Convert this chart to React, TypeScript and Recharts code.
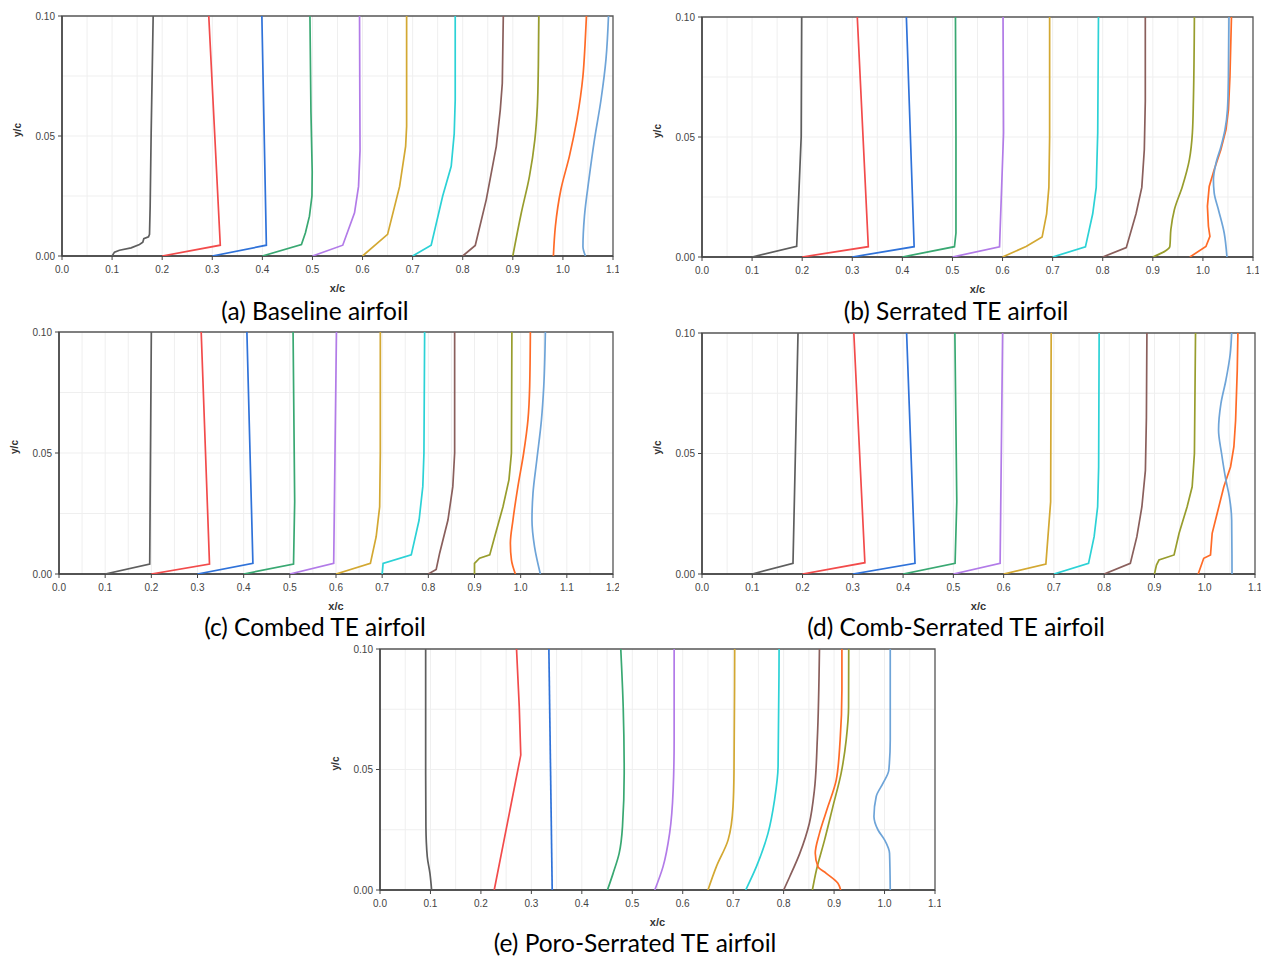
import React from 'react';
import { ScatterChart, Scatter, XAxis, YAxis, CartesianGrid, ReferenceArea } from 'recharts';

type Pt = [number, number];

const COLORS = ['#5e5e5e', '#f24b4b', '#2f72d9', '#39a872', '#b27be8', '#d3a832', '#2cd2d6', '#8a5f5c', '#989d2d', '#ff6b27', '#6ea4d8'];

const Y_TICKS = [0, 0.05, 0.1];
const Y_GRID = [0.025, 0.05, 0.075];
const X_TICKS_11 = [0, 0.1, 0.2, 0.3, 0.4, 0.5, 0.6, 0.7, 0.8, 0.9, 1.0, 1.1];
const X_TICKS_12 = [0, 0.1, 0.2, 0.3, 0.4, 0.5, 0.6, 0.7, 0.8, 0.9, 1.0, 1.1, 1.2];
const X_GRID_11 = [0.05, 0.1, 0.15, 0.2, 0.25, 0.3, 0.35, 0.4, 0.45, 0.5, 0.55, 0.6, 0.65, 0.7, 0.75, 0.8, 0.85, 0.9, 0.95, 1.0, 1.05];
const X_GRID_12 = [0.05, 0.1, 0.15, 0.2, 0.25, 0.3, 0.35, 0.4, 0.45, 0.5, 0.55, 0.6, 0.65, 0.7, 0.75, 0.8, 0.85, 0.9, 0.95, 1.0, 1.05, 1.1, 1.15];

// (a) Baseline airfoil
const baselineProfiles: Pt[][] = [
  [[0.1, 0], [0.1048, 0.0016], [0.1148, 0.0024], [0.138, 0.0034], [0.1547, 0.0048], [0.1613, 0.0057], [0.1633, 0.0072], [0.1727, 0.008], [0.1747, 0.009], [0.176, 0.0207], [0.178, 0.0513], [0.182, 0.1]],
  [[0.2, 0], [0.316, 0.0045], [0.293, 0.1]],
  [[0.3, 0], [0.408, 0.0045], [0.399, 0.1]],
  [[0.4, 0], [0.478, 0.0048], [0.486, 0.0097], [0.494, 0.0166], [0.499, 0.025], [0.4995, 0.035], [0.497, 0.06], [0.495, 0.1]],
  [[0.5, 0], [0.5605, 0.0045], [0.584, 0.018], [0.592, 0.029], [0.595, 0.044], [0.5945, 0.07], [0.594, 0.1]],
  [[0.6, 0], [0.65, 0.009], [0.674, 0.029], [0.686, 0.0457], [0.688, 0.054], [0.688, 0.1]],
  [[0.7, 0], [0.737, 0.0045], [0.76, 0.025], [0.777, 0.0374], [0.783, 0.051], [0.785, 0.065], [0.785, 0.1]],
  [[0.8, 0], [0.825, 0.0044], [0.847, 0.0235], [0.867, 0.0457], [0.875, 0.061], [0.879, 0.072], [0.881, 0.1]],
  [[0.9, 0], [0.917, 0.018], [0.933, 0.033], [0.944, 0.0485], [0.949, 0.0624], [0.951, 0.079], [0.952, 0.1]],
  [[0.981, 0], [0.985, 0.0124], [0.996, 0.0277], [1.013, 0.0416], [1.028, 0.0569], [1.04, 0.075], [1.044, 0.0874], [1.047, 0.1]],
  [[1.045, 0], [1.04, 0.004], [1.043, 0.0166], [1.052, 0.032], [1.063, 0.0485], [1.076, 0.065], [1.086, 0.082], [1.091, 0.1]],
];

// (b) Serrated TE airfoil
const serratedProfiles: Pt[][] = [
  [[0.1, 0], [0.189, 0.0044], [0.198, 0.05], [0.199, 0.1]],
  [[0.2, 0], [0.332, 0.0043], [0.31, 0.1]],
  [[0.3, 0], [0.4235, 0.0043], [0.408, 0.1]],
  [[0.4, 0], [0.504, 0.0043], [0.507, 0.01], [0.507, 0.05], [0.506, 0.1]],
  [[0.5, 0], [0.594, 0.0042], [0.602, 0.0517], [0.601, 0.1]],
  [[0.6, 0], [0.647, 0.0044], [0.679, 0.0083], [0.688, 0.018], [0.6925, 0.029], [0.694, 0.05], [0.694, 0.1]],
  [[0.7, 0], [0.7655, 0.0042], [0.78, 0.018], [0.787, 0.029], [0.79, 0.0517], [0.7915, 0.1]],
  [[0.8, 0], [0.847, 0.0039], [0.8665, 0.018], [0.878, 0.029], [0.883, 0.0447], [0.885, 0.065], [0.885, 0.1]],
  [[0.9, 0], [0.934, 0.0044], [0.936, 0.0114], [0.943, 0.0197], [0.959, 0.0294], [0.973, 0.0406], [0.979, 0.0517], [0.981, 0.065], [0.983, 0.1]],
  [[0.974, 0], [1.006, 0.0044], [1.014, 0.0086], [1.011, 0.0128], [1.009, 0.0211], [1.0126, 0.0294], [1.0225, 0.0364], [1.0358, 0.0447], [1.046, 0.053], [1.051, 0.0614], [1.054, 0.0753], [1.057, 0.1]],
  [[1.048, 0], [1.0425, 0.01], [1.031, 0.0197], [1.0225, 0.0267], [1.021, 0.0322], [1.026, 0.039], [1.036, 0.046], [1.044, 0.053], [1.049, 0.0614], [1.051, 0.075], [1.052, 0.1]],
];

// (c) Combed TE airfoil
const combedProfiles: Pt[][] = [
  [[0.1, 0], [0.1965, 0.0041], [0.2, 0.1]],
  [[0.2, 0], [0.326, 0.0041], [0.308, 0.1]],
  [[0.3, 0], [0.42, 0.0044], [0.407, 0.1]],
  [[0.4, 0], [0.508, 0.0041], [0.5105, 0.03], [0.507, 0.1]],
  [[0.5, 0], [0.595, 0.0044], [0.601, 0.1]],
  [[0.6, 0], [0.6745, 0.0044], [0.687, 0.0154], [0.6946, 0.0278], [0.696, 0.05], [0.696, 0.1]],
  [[0.7, 0], [0.702, 0.0044], [0.763, 0.0079], [0.78, 0.0223], [0.788, 0.0361], [0.7905, 0.05], [0.792, 0.1]],
  [[0.8, 0], [0.817, 0.0019], [0.8245, 0.0086], [0.8425, 0.0223], [0.853, 0.0361], [0.857, 0.05], [0.857, 0.1]],
  [[0.9, 0], [0.9, 0.0044], [0.911, 0.0065], [0.933, 0.0079], [0.9437, 0.0154], [0.9617, 0.0278], [0.9747, 0.039], [0.98, 0.05], [0.981, 0.1]],
  [[0.9885, 0], [0.98, 0.0058], [0.9777, 0.0127], [0.9833, 0.0223], [0.994, 0.0361], [1.0065, 0.05], [1.0158, 0.0637], [1.0195, 0.0775], [1.021, 0.1]],
  [[1.0426, 0], [1.03, 0.0113], [1.0245, 0.0223], [1.0267, 0.0334], [1.035, 0.0472], [1.045, 0.0637], [1.05, 0.0775], [1.0535, 0.1]],
];

// (d) Comb-Serrated TE airfoil
const combSerratedProfiles: Pt[][] = [
  [[0.1, 0], [0.181, 0.0044], [0.191, 0.1]],
  [[0.2, 0], [0.324, 0.0047], [0.302, 0.1]],
  [[0.3, 0], [0.4237, 0.0044], [0.407, 0.1]],
  [[0.4, 0], [0.5034, 0.0044], [0.5068, 0.03], [0.503, 0.1]],
  [[0.5, 0], [0.593, 0.0044], [0.598, 0.1]],
  [[0.6, 0], [0.684, 0.0041], [0.6935, 0.03], [0.6946, 0.1]],
  [[0.7, 0], [0.7689, 0.0044], [0.78, 0.0155], [0.787, 0.0279], [0.789, 0.0445], [0.79, 0.1]],
  [[0.8, 0], [0.852, 0.0044], [0.865, 0.0155], [0.875, 0.0279], [0.882, 0.043], [0.884, 0.065], [0.885, 0.1]],
  [[0.9, 0], [0.904, 0.0037], [0.909, 0.0058], [0.939, 0.0079], [0.949, 0.0169], [0.965, 0.0279], [0.975, 0.0362], [0.9795, 0.05], [0.9817, 0.1]],
  [[0.987, 0], [0.998, 0.0065], [1.0115, 0.0079], [1.0148, 0.0169], [1.0248, 0.0252], [1.038, 0.0362], [1.0514, 0.0445], [1.058, 0.0528], [1.0614, 0.0637], [1.0647, 0.0845], [1.066, 0.1]],
  [[1.0543, 0], [1.0536, 0.0224], [1.049, 0.032], [1.0421, 0.039], [1.0335, 0.05], [1.0275, 0.0597], [1.0322, 0.0707], [1.0421, 0.0804], [1.0508, 0.0915], [1.0536, 0.1]],
];

// (e) Poro-Serrated TE airfoil
const poroSerratedProfiles: Pt[][] = [
  [[0.1023, 0], [0.099, 0.0069], [0.0937, 0.0138], [0.091, 0.0263], [0.0905, 0.0485], [0.0905, 0.1]],
  [[0.2264, 0], [0.279, 0.056], [0.276, 0.076], [0.2706, 0.1]],
  [[0.3413, 0], [0.3347, 0.1]],
  [[0.4508, 0], [0.462, 0.0069], [0.474, 0.0152], [0.4806, 0.0263], [0.484, 0.0485], [0.482, 0.076], [0.4772, 0.1]],
  [[0.5446, 0], [0.561, 0.0097], [0.574, 0.0235], [0.581, 0.0415], [0.583, 0.0623], [0.583, 0.1]],
  [[0.65, 0], [0.6667, 0.0097], [0.69, 0.0208], [0.6997, 0.0346], [0.7016, 0.0485], [0.703, 0.1]],
  [[0.7248, 0], [0.746, 0.0097], [0.769, 0.0235], [0.782, 0.0374], [0.789, 0.0512], [0.791, 0.1]],
  [[0.8, 0], [0.812, 0.0055], [0.832, 0.0152], [0.851, 0.0277], [0.861, 0.0415], [0.8667, 0.0623], [0.871, 0.1]],
  [[0.857, 0], [0.865, 0.0083], [0.8812, 0.0208], [0.8976, 0.0346], [0.914, 0.0485], [0.924, 0.0623], [0.9287, 0.076], [0.929, 0.1]],
  [[0.913, 0], [0.9076, 0.0028], [0.8845, 0.0069], [0.868, 0.0097], [0.8627, 0.0152], [0.871, 0.0235], [0.8878, 0.0346], [0.9043, 0.0457], [0.912, 0.0623], [0.9155, 0.0831], [0.9155, 0.1]],
  [[1.0113, 0], [1.0099, 0.0152], [1.0, 0.0208], [0.9868, 0.025], [0.979, 0.0305], [0.9835, 0.0388], [0.997, 0.0443], [1.0085, 0.0498], [1.0113, 0.0623], [1.0113, 0.1]],
];

const TITLES = ['(a) Baseline airfoil', '(b) Serrated TE airfoil', '(c) Combed TE airfoil', '(d) Comb-Serrated TE airfoil', '(e) Poro-Serrated TE airfoil'];

type PanelCfg = {
  left: number; top: number; width: number; height: number;
  xMax: number; xTicks: number[]; xGrid: number[];
  curves: Pt[][]; smooth: number[];
  title: string; titleX: number; titleY: number;
};

const PANELS: PanelCfg[] = [
  { left: 62, top: 16, width: 551, height: 240, xMax: 1.1, xTicks: X_TICKS_11, xGrid: X_GRID_11, curves: baselineProfiles, smooth: [8, 9, 10], title: TITLES[0], titleX: 315, titleY: 320 },
  { left: 702, top: 17, width: 551, height: 240, xMax: 1.1, xTicks: X_TICKS_11, xGrid: X_GRID_11, curves: serratedProfiles, smooth: [8, 10], title: TITLES[1], titleX: 956, titleY: 320 },
  { left: 59, top: 332, width: 554, height: 242, xMax: 1.2, xTicks: X_TICKS_12, xGrid: X_GRID_12, curves: combedProfiles, smooth: [9, 10], title: TITLES[2], titleX: 315, titleY: 636 },
  { left: 702, top: 333, width: 553, height: 241, xMax: 1.1, xTicks: X_TICKS_11, xGrid: X_GRID_11, curves: combSerratedProfiles, smooth: [10], title: TITLES[3], titleX: 956, titleY: 636 },
  { left: 380, top: 649, width: 555, height: 241, xMax: 1.1, xTicks: X_TICKS_11, xGrid: X_GRID_11, curves: poroSerratedProfiles, smooth: [0, 3, 4, 5, 6, 7, 8, 9, 10], title: TITLES[4], titleX: 635, titleY: 952 },
];

const TICK_FONT = { fontSize: 10, fill: '#444', fontFamily: '"Liberation Sans", Arial, sans-serif' };
const ML = 60, MT = 5, MR = 6, XH = 30;

function Panel({ cfg }: { cfg: PanelCfg }) {
  const { left, top, width, height, xMax, xTicks, xGrid, curves, smooth } = cfg;
  return (
    <div style={{ position: 'absolute', left: left - ML, top: top - MT }}>
      <ScatterChart width={ML + width + MR} height={MT + height + XH} margin={{ top: MT, right: MR, bottom: 0, left: 0 }}>
        <CartesianGrid stroke="#efefef" strokeWidth={1} verticalValues={xGrid} horizontalValues={Y_GRID} />
        <XAxis
          type="number" dataKey="x" domain={[0, xMax]} ticks={xTicks} interval={0} allowDataOverflow
          height={XH} tickSize={4} tickMargin={6} tick={TICK_FONT}
          tickFormatter={(v: number) => v.toFixed(1)}
          stroke="#444" axisLine={{ stroke: '#444', strokeWidth: 1.5 }}
        />
        <YAxis
          type="number" dataKey="y" domain={[0, 0.1]} ticks={Y_TICKS} interval={0} allowDataOverflow
          width={ML} tickSize={4} tickMargin={3} tick={TICK_FONT}
          tickFormatter={(v: number) => v.toFixed(2)}
          stroke="#444" axisLine={{ stroke: '#444', strokeWidth: 1.5 }}
        />
        <ReferenceArea x1={0} x2={xMax} y1={0} y2={0.1} fill="none" fillOpacity={0} stroke="#555" strokeWidth={1.3} />
        {curves.map((c, i) => (
          <Scatter
            key={i}
            data={c.map(([x, y]) => ({ x, y }))}
            line={{ stroke: COLORS[i], strokeWidth: 1.7 }}
            lineJointType={smooth.includes(i) ? 'monotoneY' : 'linear'}
            shape={() => <g />}
            fill="none"
            legendType="none"
            isAnimationActive={false}
          />
        ))}
      </ScatterChart>
    </div>
  );
}

export default function App() {
  return (
    <div style={{ position: 'absolute', left: 0, top: 0, width: 1261, height: 958, background: '#fff' }}>
      {PANELS.map((p, i) => <Panel key={i} cfg={p} />)}
      <svg width={1261} height={958} style={{ position: 'absolute', left: 0, top: 0, pointerEvents: 'none' }}>
        {PANELS.map((p, i) => {
          const cy = p.top + p.height / 2 - 6;
          const lx = p.left - 45;
          return (
            <g key={i}>
              <text x={p.titleX} y={p.titleY} textAnchor="middle" fontFamily="Lato, 'Open Sans', sans-serif" fontSize={24.5} fill="#000">{p.title}</text>
              <text x={lx} y={cy} textAnchor="middle" dominantBaseline="central" transform={`rotate(-90 ${lx} ${cy})`} fontFamily='"Liberation Sans", Arial, sans-serif' fontSize={10} fontWeight="bold" fill="#333">y/c</text>
              <text x={p.left + p.width / 2} y={p.top + p.height + 32} textAnchor="middle" dominantBaseline="central" fontFamily='"Liberation Sans", Arial, sans-serif' fontSize={11} fontWeight="bold" fill="#333">x/c</text>
            </g>
          );
        })}
      </svg>
    </div>
  );
}
